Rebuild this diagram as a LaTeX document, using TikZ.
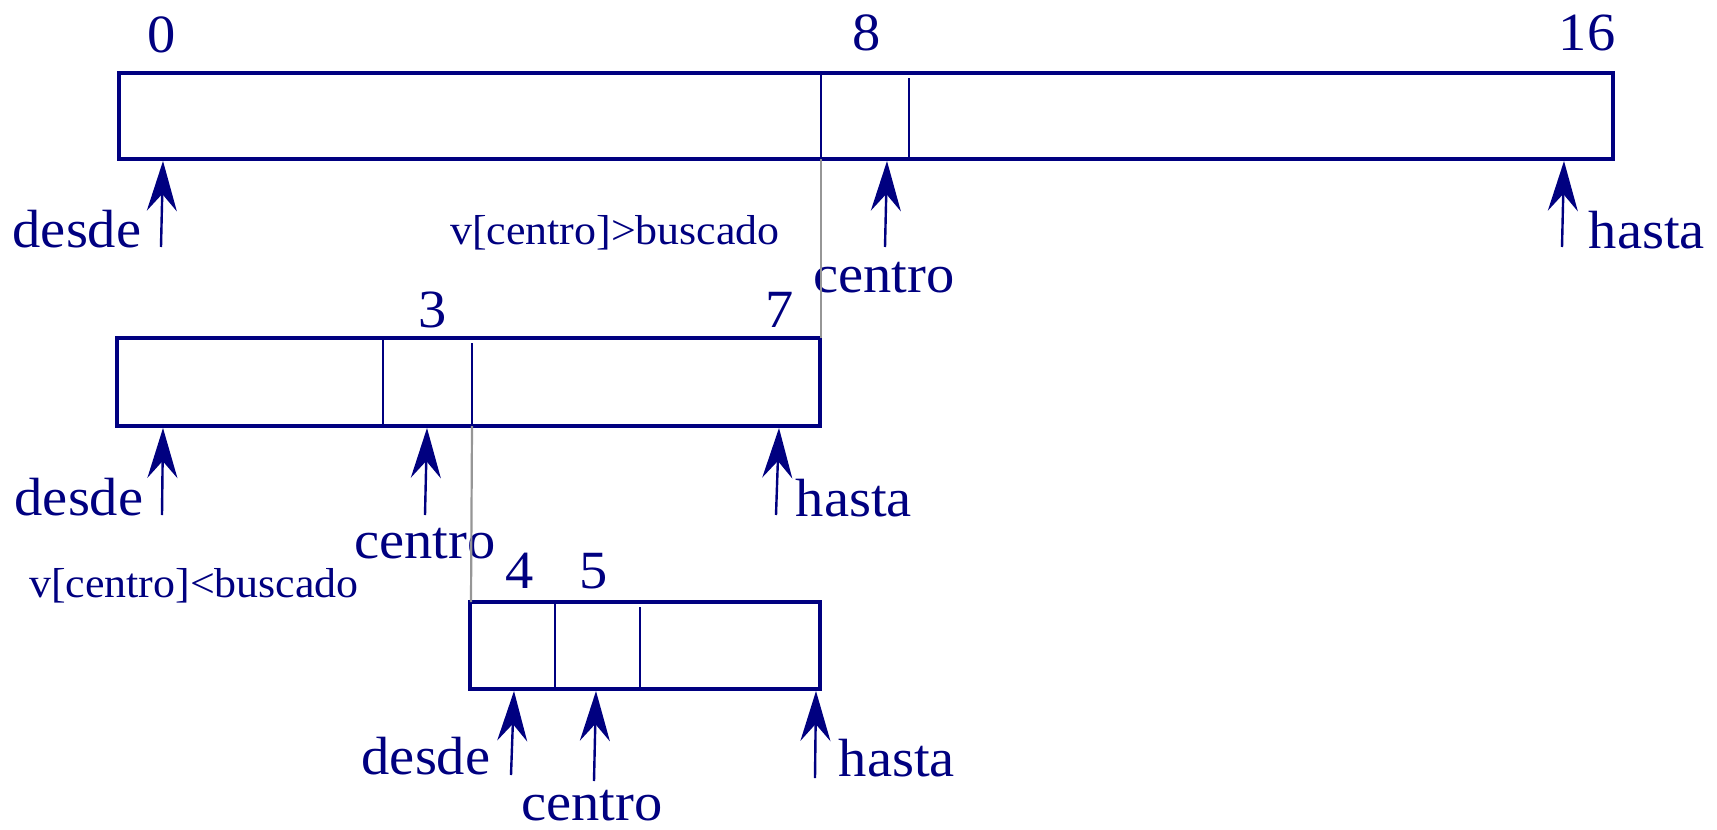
\documentclass[tikz,border=0pt]{standalone}
\usepackage{fontspec}
\setmainfont[FakeStretch=1.05]{Liberation Serif}
\usetikzlibrary{arrows.meta}
\definecolor{navy}{RGB}{0,0,128}
\definecolor{conn}{RGB}{150,150,150}
\begin{document}
\begin{tikzpicture}[x=1bp,y=-1bp,
  boxline/.style={draw=navy,line width=3.2bp},
  divline/.style={draw=navy,line width=2.6bp},
  ptr/.style={draw=navy,line width=2.4bp,-{Stealth[length=50bp,width=30bp,inset=17bp]}},
  lbl/.style={text=navy,inner sep=0pt,font=\fontsize{54}{54}\selectfont},
  cond/.style={text=navy,inner sep=0pt,font=\fontsize{42}{42}\selectfont},
  link/.style={draw=conn,line width=2.2bp}]
\useasboundingbox (0,0) rectangle (1717,830);
% top array
\draw[boxline] (119,73) rectangle (1613,159);
\coordinate (t1) at (821,73); \coordinate (t1b) at (821,159);
\coordinate (t2) at (909,78); \coordinate (t2b) at (909,159);
\draw[divline] (t1) -- (t1b);
\draw[divline] (t2) -- (t2b);
\node[lbl] (n0) at (162,35) {0};
\node[lbl] (n8) at (867,33) {8};
\node[lbl] (n16) at (1587,33) {16};
\coordinate (tdT) at (163,161); \coordinate (tdS) at (161,247);
\coordinate (tcT) at (887,161); \coordinate (tcS) at (885,247);
\coordinate (thT) at (1564,161); \coordinate (thS) at (1562,247);
\draw[ptr] (tdS) -- (tdT);
\draw[ptr] (tcS) -- (tcT);
\draw[ptr] (thS) -- (thT);
\node[lbl] (tdL) at (77,229) {desde};
\node[lbl] (tcL) at (884,278) {centro};
\node[lbl] (thL) at (1647,230) {hasta};
\node[cond] (c1) at (615,233) {v[centro]>buscado};
% middle array
\draw[boxline] (117,338) rectangle (820,426);
\coordinate (m1) at (383,338); \coordinate (m1b) at (383,426);
\coordinate (m2) at (472,343); \coordinate (m2b) at (472,426);
\coordinate (mTR) at (821,338);
\draw[divline] (m1) -- (m1b);
\draw[divline] (m2) -- (m2b);
\node[lbl] (n3) at (433,310) {3};
\node[lbl] (n7) at (780,310) {7};
\coordinate (mdT) at (163,428); \coordinate (mdS) at (162,515);
\coordinate (mcT) at (427,428); \coordinate (mcS) at (425,515);
\coordinate (mhT) at (779,428); \coordinate (mhS) at (776,515);
\draw[ptr] (mdS) -- (mdT);
\draw[ptr] (mcS) -- (mcT);
\draw[ptr] (mhS) -- (mhT);
\node[lbl] (mdL) at (79,497) {desde};
\node[lbl] (mcL) at (425,544) {centro};
\node[lbl] (mhL) at (854,498) {hasta};
\node[cond] (c2) at (194,586) {v[centro]<buscado};
% bottom array
\draw[boxline] (470,602) rectangle (820,689);
\coordinate (b1) at (555,602); \coordinate (b1b) at (555,689);
\coordinate (b2) at (640,607); \coordinate (b2b) at (640,689);
\coordinate (bTL) at (471,602);
\draw[divline] (b1) -- (b1b);
\draw[divline] (b2) -- (b2b);
\node[lbl] (n4) at (520,571) {4};
\node[lbl] (n5) at (594,571) {5};
\coordinate (bdT) at (514,691); \coordinate (bdS) at (511,775);
\coordinate (bcT) at (596,691); \coordinate (bcS) at (594,781);
\coordinate (bhT) at (816,691); \coordinate (bhS) at (815,778);
\draw[ptr] (bdS) -- (bdT);
\draw[ptr] (bcS) -- (bcT);
\draw[ptr] (bhS) -- (bhT);
\node[lbl] (bdL) at (426,756) {desde};
\node[lbl] (bcL) at (592,806) {centro};
\node[lbl] (bhL) at (897,758) {hasta};
% gray links
\draw[link] (t1b) -- (mTR);
\draw[link] (m2b) -- (bTL);
\end{tikzpicture}
\end{document}
